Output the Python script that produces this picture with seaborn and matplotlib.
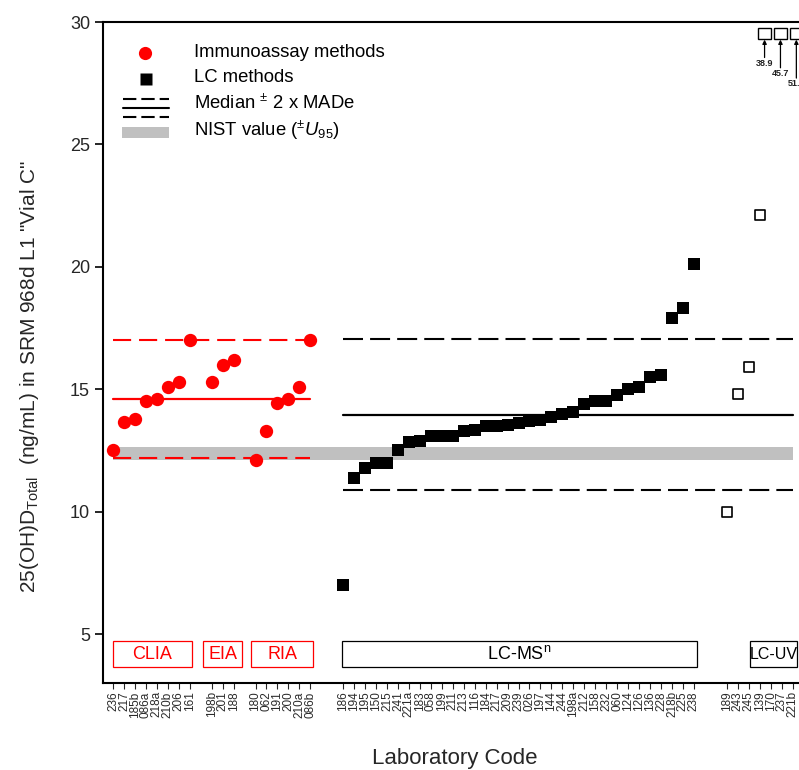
import numpy as np
import pandas as pd
import matplotlib
matplotlib.use("Agg")
import matplotlib.pyplot as plt
from matplotlib.patches import Rectangle
import seaborn as sns

# ---- data -------------------------------------------------------------
clia_codes = ["236", "217", "185b", "086a", "218a", "210b", "206", "161"]
clia_vals = [12.5, 13.65, 13.8, 14.5, 14.6, 15.1, 15.3, 17.0]

eia_codes = ["198b", "201", "188"]
eia_vals = [15.3, 16.0, 16.2]

ria_codes = ["180", "062", "191", "200", "210a", "086b"]
ria_vals = [12.1, 13.3, 14.45, 14.6, 15.1, 17.0]

lcms_codes = ["186", "194", "195", "150", "215", "241", "221a", "183", "058",
              "199", "211", "213", "116", "184", "217", "209", "239", "026",
              "197", "144", "244", "198a", "212", "158", "232", "060", "124",
              "126", "136", "228", "218b", "225", "238"]
lcms_vals = [7.0, 11.38, 11.8, 12.0, 12.0, 12.5, 12.85, 12.9, 13.1, 13.1,
             13.1, 13.3, 13.35, 13.5, 13.5, 13.55, 13.6, 13.7, 13.75, 13.85,
             14.0, 14.05, 14.4, 14.5, 14.5, 14.75, 15.0, 15.1, 15.5, 15.6,
             17.9, 18.3, 20.1]

lcuv_codes = ["189", "243", "245", "139", "170", "237", "221b"]
lcuv_vals = [10.0, 14.8, 15.9, 22.1, 38.9, 45.7, 51.2]

# consensus statistics
imm_median, imm_lo, imm_hi = 14.6, 12.2, 17.0
lc_median, lc_lo, lc_hi = 13.95, 10.88, 17.05
nist_value, nist_u95 = 12.38, 0.27

y_max = 30.0
offscale_y = 29.5

# ---- layout of laboratories along x (gaps between method groups) ------
groups = [("CLIA", clia_codes, clia_vals, "imm", 1),
          ("EIA", eia_codes, eia_vals, "imm", 1),
          ("RIA", ria_codes, ria_vals, "imm", 2),
          ("LC-MS$^{\\mathrm{n}}$", lcms_codes, lcms_vals, "lcms", 2),
          ("LC-UV", lcuv_codes, lcuv_vals, "lcuv", 0)]

rows = []
spans = {}
pos = 0
for name, codes, vals, kind, gap in groups:
    start = pos
    for c, v in zip(codes, vals):
        rows.append(dict(group=name, code=c, value=v, kind=kind, pos=pos))
        pos += 1
    spans[name] = (start, pos - 1)
    pos += gap
df = pd.DataFrame(rows)

# ---- figure -------------------------------------------------------------
sns.set_theme(style="ticks")
plt.rcParams["font.family"] = ["Liberation Sans", "DejaVu Sans"]
plt.rcParams["mathtext.fontset"] = "custom"
plt.rcParams["mathtext.rm"] = "Liberation Sans"
plt.rcParams["mathtext.it"] = "Liberation Sans:italic"
plt.rcParams["mathtext.bf"] = "Liberation Sans:bold"

fig = plt.figure(figsize=(7.99, 7.70), dpi=100)
ax = fig.add_axes([0.1283, 0.113, 0.8773, 0.8584])

red = "#ff0000"
imm = df[df.kind == "imm"]
lcms = df[df.kind == "lcms"]
lcuv = df[(df.kind == "lcuv") & (df.value <= y_max)]
lcuv_off = df[(df.kind == "lcuv") & (df.value > y_max)]

x_first, x_last = df.pos.min(), df.pos.max()
imm_lo_x, imm_hi_x = imm.pos.min(), imm.pos.max()
lc_start = lcms.pos.min()

# NIST reference band
ax.fill_between([x_first, x_last], nist_value - nist_u95, nist_value + nist_u95,
                color="#c0c0c0", lw=0, zorder=1)

# immunoassay consensus lines
ax.plot([imm_lo_x, imm_hi_x], [imm_median] * 2, color=red, lw=1.6, zorder=2)
for yv in (imm_lo, imm_hi):
    ax.plot([imm_lo_x, imm_hi_x], [yv] * 2, color=red, lw=1.5,
            dashes=(8.7, 3.8), zorder=2)

# LC consensus lines
ax.plot([lc_start, x_last], [lc_median] * 2, color="black", lw=1.6, zorder=2)
for yv in (lc_lo, lc_hi):
    ax.plot([lc_start, x_last], [yv] * 2, color="black", lw=1.5,
            dashes=(9.6, 3.4), zorder=2)

sns.scatterplot(data=imm, x="pos", y="value", ax=ax, color=red, marker="o",
                s=92, linewidth=0, zorder=4, legend=False)
sns.scatterplot(data=lcms, x="pos", y="value", ax=ax, color="black", marker="s",
                s=68, linewidth=0, zorder=4, legend=False)
sns.scatterplot(data=lcuv, x="pos", y="value", ax=ax, marker="s", s=56,
                facecolor="white", edgecolor="black", linewidth=1.2, zorder=4,
                legend=False)

# off-scale results: open boxes at the top with arrows and values
for i, (_, r) in enumerate(lcuv_off.iterrows()):
    xa = lcuv_off.pos.min() - 0.55 + 1.45 * i
    ax.add_patch(Rectangle((xa - 0.58, offscale_y - 0.2), 1.16, 0.45,
                           facecolor="white", edgecolor="black", lw=1.0,
                           zorder=5, clip_on=False))
    tail = 28.55 - 0.42 * i
    ax.annotate("", xy=(xa, offscale_y - 0.22), xytext=(xa, tail),
                arrowprops=dict(arrowstyle="-|>", lw=0.9, color="black",
                                mutation_scale=6, shrinkA=0, shrinkB=0),
                zorder=5)
    ax.text(xa, tail - 0.05, f"{r.value:.1f}", ha="center", va="top",
            fontsize=6.5, fontweight="bold", color="#202020", zorder=5)

# method group boxes
box_lo, box_hi = 3.65, 4.72
box_pad = {"CLIA": (0.0, 0.2), "EIA": (-0.8, 0.8), "RIA": (-0.4, 0.25),
           "LC-MS$^{\\mathrm{n}}$": (-0.1, 0.3), "LC-UV": (2.1, 0.4)}
box_font = {"LC-UV": 11.5}
for name, _, _, kind, _ in groups:
    a, b = spans[name]
    pl, pr = box_pad[name]
    x0, x1 = a + pl, b + pr
    col = red if kind == "imm" else "black"
    ax.add_patch(Rectangle((x0, box_lo), x1 - x0, box_hi - box_lo,
                           facecolor="white", edgecolor=col, lw=0.9, zorder=3))
    ax.text((x0 + x1) / 2, (box_lo + box_hi) / 2 - 0.02, name, ha="center",
            va="center", fontsize=box_font.get(name, 13), color=col, zorder=4)

# legend drawn in axes fraction
T = ax.transAxes
def fx(px):
    return (px - 102.5) / (803.5 - 102.5)
def fy(py):
    return (683 - py) / (683 - 22)

ax.plot([fx(145)], [fy(53)], transform=T, marker="o", ms=9.5, color=red,
        mec="none", clip_on=False)
ax.plot([fx(146)], [fy(78.5)], transform=T, marker="s", ms=8.2, color="black",
        mec="none", clip_on=False)
ax.plot([fx(122.5), fx(168.5)], [fy(98.5)] * 2, transform=T, color="black",
        lw=1.5, dashes=(6.4, 2.4))
ax.plot([fx(122.5), fx(168.5)], [fy(107.5)] * 2, transform=T, color="black",
        lw=1.5)
ax.plot([fx(122.5), fx(168.5)], [fy(116.5)] * 2, transform=T, color="black",
        lw=1.5, dashes=(6.4, 2.4))
ax.add_patch(Rectangle((fx(121.5), fy(138)), fx(169) - fx(121.5),
                       fy(127) - fy(138), transform=T, facecolor="#c0c0c0",
                       edgecolor="none"))
leg_txt = ["Immunoassay methods", "LC methods",
           "Median $^{\\pm}$ 2 x MADe", "NIST value ($^{\\pm}U_{95}$)"]
for t, py in zip(leg_txt, [52, 77, 103, 130]):
    ax.text(fx(194), fy(py), t, transform=T, ha="left", va="center",
            fontsize=13.3, color="black")

# axes styling
ax.set_xlim(-0.96, 63.0)
ax.set_ylim(3.0, y_max)
ax.set_yticks([5, 10, 15, 20, 25, 30])
ax.set_xticks(df.pos)
ax.set_xticklabels(df.code, rotation=90, fontsize=8.5, color="#2a2a2a")
ax.tick_params(axis="y", direction="out", length=6, width=1.4, labelsize=13,
               pad=3)
ax.tick_params(axis="x", direction="out", length=4, width=0.8, pad=2)
for s in ("left", "top", "bottom"):
    ax.spines[s].set_linewidth(1.5)
    ax.spines[s].set_color("black")
ax.spines["right"].set_visible(False)
ax.spines["top"].set_visible(True)

ax.set_xlabel("Laboratory Code", fontsize=16)
ax.xaxis.set_label_coords(0.503, -0.098)
ax.set_ylabel("25(OH)D$_{\\mathrm{Total}}$  (ng/mL) in SRM 968d L1 \"Vial C\"",
              fontsize=15)
ax.yaxis.set_label_coords(-0.088, 0.464)

fig.savefig("out.png", dpi=100)
